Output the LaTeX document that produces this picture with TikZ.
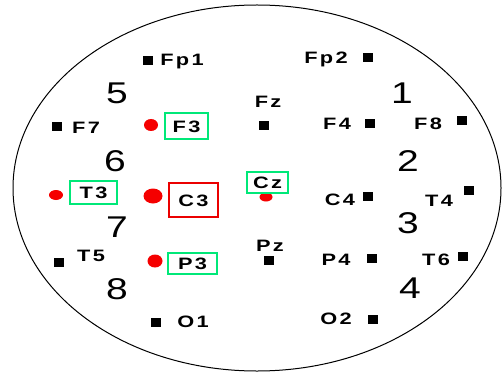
\documentclass[tikz,border=0pt]{standalone}
\usepackage{fontspec}
\usepackage{xcolor}
\usetikzlibrary{shapes.geometric}
\newfontfamily\elfont[FakeStretch=1.32,LetterSpace=14]{Liberation Sans}
\newfontfamily\numfont[FakeStretch=1.3]{Liberation Sans}
\definecolor{boxgreen}{RGB}{0,232,120}
\definecolor{boxred}{RGB}{235,0,0}
\definecolor{dotred}{RGB}{245,0,0}

\begin{document}
\begin{tikzpicture}[x=1pt, y=-1pt,
    every node/.style={font=\elfont\bfseries\fontsize{16.5}{16.5}\selectfont, text height=12pt, text depth=0pt},
    elec/.style={fill=black, minimum width=10pt, minimum height=9pt, inner sep=0pt, text height=, text depth=},
    num/.style={font=\numfont\fontsize{30}{30}\selectfont, text height=21.5pt},
    hdot/.style={ellipse, fill=dotred, inner sep=0pt, text height=, text depth=},
    gbox/.style={draw=boxgreen, line width=2pt, inner sep=0pt},
    rbox/.style={draw=boxred, line width=2pt, inner sep=0pt}]
    \useasboundingbox (0,0) rectangle (502,374);
    % head outline
    \draw[line width=1pt] (257,188) ellipse [x radius=244, y radius=183];

    % region numbers
    \node[num] (n5) at (117,93) {5};
    \node[num] (n6) at (115,161) {6};
    \node[num] (n7) at (117,227) {7};
    \node[num] (n8) at (117,289) {8};
    \node[num] (n1) at (402,93) {1};
    \node[num] (n2) at (408,161) {2};
    \node[num] (n3) at (408,223) {3};
    \node[num] (n4) at (410,288) {4};

    % plain electrodes
    \node[elec] (fp1) at (148,61) {};  \node (lfp1) at (182,60) {Fp1};
    \node[elec] (fp2) at (368,58) {};  \node (lfp2) at (326,58) {Fp2};
    \node[elec] (f7) at (57,127) {};   \node (lf7) at (86,127) {F7};
    \node[elec] (fz) at (264,126) {};  \node (lfz) at (268,102) {Fz};
    \node[elec] (f4) at (370,124) {};  \node (lf4) at (337,124) {F4};
    \node[elec] (f8) at (462,121) {};  \node (lf8) at (428,124) {F8};
    \node[elec] (c4) at (368,196) {};  \node (lc4) at (340,199) {C4};
    \node[elec] (t4) at (469,190) {};  \node (lt4) at (439,200) {T4};
    \node[elec] (t5) at (59,262) {};   \node (lt5) at (91,255) {T5};
    \node[elec] (pz) at (269,260) {};  \node (lpz) at (270,245) {Pz};
    \node[elec] (p4) at (372,258) {};  \node (lp4) at (336,259) {P4};
    \node[elec] (t6) at (463,256) {};  \node (lt6) at (436,259) {T6};
    \node[elec] (o1) at (156,322) {};  \node (lo1) at (193,321) {O1};
    \node[elec] (o2) at (373,319) {};  \node (lo2) at (336,318) {O2};

    % marked electrodes
    \node[hdot, minimum width=14pt, minimum height=12pt] (f3) at (151,125) {};
    \node[gbox, minimum width=43pt, minimum height=26pt] (lf3) at (186.5,126) {F3};
    \node[hdot, minimum width=14pt, minimum height=10pt] (t3) at (56,195) {};
    \node[gbox, minimum width=47pt, minimum height=23pt] (lt3) at (93.5,192.5) {T3};
    \node[hdot, minimum width=19pt, minimum height=15pt] (c3) at (153,196) {};
    \node[rbox, minimum width=49pt, minimum height=34pt] (lc3) at (193.5,200) {C3};
    \node[hdot, minimum width=13pt, minimum height=9pt] (cz) at (266,197) {};
    \node[gbox, minimum width=41pt, minimum height=21pt] (lcz) at (267.5,182.5) {Cz};
    \node[hdot, minimum width=15pt, minimum height=13pt] (p3) at (155,261) {};
    \node[gbox, minimum width=49pt, minimum height=21pt] (lp3) at (192.5,263.5) {P3};
\end{tikzpicture}
\end{document}
